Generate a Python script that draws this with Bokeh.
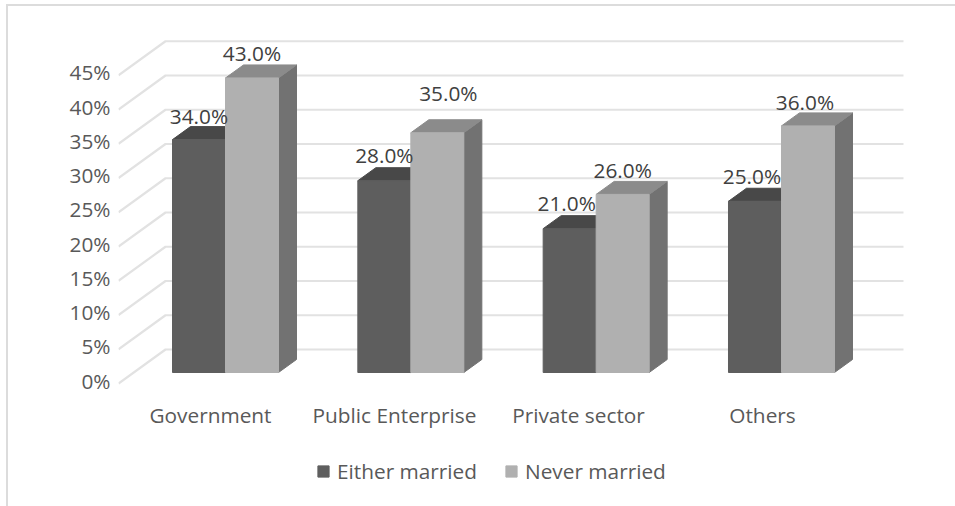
from bokeh.plotting import figure
from bokeh.models import ColumnDataSource, FixedTicker, Legend, LegendItem, LinearAxis, Range1d
from bokeh.core.properties import value
from bokeh.embed import file_html
from bokeh.resources import INLINE

categories = ["Government", "Public Enterprise", "Private sector", "Others"]
either_married = [34.0, 28.0, 21.0, 25.0]
never_married = [43.0, 35.0, 26.0, 36.0]
y_ticks = [0, 5, 10, 15, 20, 25, 30, 35, 40, 45]
series_names = ["Either married", "Never married"]

FONT = "Open Sans"
FS = "20.8px"
PX_X, PX_Y = 184.0, 6.85          # pixels per data unit
ORIGIN_X, ORIGIN_Y = 8, 6         # where the figure's content sits on the page
LEFT, RIGHT, TOP, BASE, BOTTOM = 118, 935, 20, 383, 503

def sx(px):   # horizontal distance in data units
    return px / PX_X

def sy(px):
    return px / PX_Y

y_start, y_end = -(BOTTOM - BASE) / PX_Y, (BASE - TOP) / PX_Y
p = figure(frame_width=RIGHT - LEFT, frame_height=BOTTOM - TOP,
           min_border_left=LEFT - ORIGIN_X, min_border_right=955 - RIGHT,
           min_border_top=TOP - ORIGIN_Y, min_border_bottom=3,
           x_range=(1 + (LEFT - 210) / PX_X, 1 + (RIGHT - 210) / PX_X),
           y_range=(y_start, y_end), y_axis_location=None, x_axis_location=None,
           output_backend="svg", toolbar_location=None,
           margin=(4, 0, 0, 6),
           styles={"border-top": "2px solid #dcdcdc", "border-left": "2px solid #dcdcdc"})
p.background_fill_color = None
p.border_fill_color = None
p.outline_line_color = None
p.grid.visible = False

back_dy = sy(34)
wall_dx = sx(47)
x_left = 1 + (LEFT - 210) / PX_X
x_back = x_left + wall_dx
x_right = 1 + (903 - 210) / PX_X
p.multi_line([[x_left, x_back, x_right] for _ in y_ticks],
             [[t, t + back_dy, t + back_dy] for t in y_ticks],
             line_color="#e2e2e2", line_width=2.2)

bar_w = sx(53)
bar_step = 185.33 / PX_X
depth_x, depth_y = sx(18), sy(13)
base = sy(11)
dark_off = -sx(210 - 172)
light_off = dark_off + bar_w
colours = [("#5e5e5e", "#484848", "#4a4a4a"), ("#b0b0b0", "#8b8b8b", "#727272")]
label_nudge_x = [[0, 0, -3, -3], [0, 11, 0, -3]]
label_nudge_y = [[24, 26, 26, 25], [25, 40, 24, 24]]

legend_items = []
for s, (vals, off) in enumerate([(either_married, dark_off), (never_married, light_off)]):
    front_c, top_c, side_c = colours[s]
    xs = [1 + i * bar_step + off for i in range(4)]
    side = p.patches([[x + bar_w, x + bar_w + depth_x, x + bar_w + depth_x, x + bar_w] for x in xs],
                     [[base, base + depth_y, v + base + depth_y, v + base] for v in vals],
                     fill_color=side_c, line_color=side_c)
    top = p.patches([[x, x + depth_x, x + bar_w + depth_x, x + bar_w] for x in xs],
                    [[v + base, v + base + depth_y, v + base + depth_y, v + base] for v in vals],
                    fill_color=top_c, line_color=top_c)
    front = p.patches([[x, x, x + bar_w, x + bar_w] for x in xs],
                      [[base, v + base, v + base, base] for v in vals],
                      fill_color=front_c, line_color=front_c)
    legend_items.append(LegendItem(label=series_names[s], renderers=[front]))

for s, (vals, off) in enumerate([(either_married, dark_off), (never_married, light_off)]):
    src = ColumnDataSource(dict(
        x=[1 + i * bar_step + off + bar_w / 2 for i in range(4)],
        y=[v + base for v in vals],
        t=[f"{v:.1f}%" for v in vals],
        dx=label_nudge_x[s],
        dy=[-d for d in label_nudge_y[s]],
    ))
    p.text("x", "y", text="t", source=src, x_offset="dx", y_offset="dy",
           text_font=value(FONT), text_font_size=value(FS), text_color="#404040",
           text_align="center", text_baseline="middle")

p.extra_y_ranges["ticks"] = Range1d(y_start - sy(3), y_end - sy(3))
y_axis = LinearAxis(y_range_name="ticks", ticker=FixedTicker(ticks=y_ticks),
                    major_label_overrides={t: f"{t}%" for t in y_ticks},
                    axis_line_color=None, major_tick_line_color=None, minor_tick_line_color=None,
                    major_label_standoff=2, major_label_text_font=FONT,
                    major_label_text_font_size=FS, major_label_text_color="#595959")
p.add_layout(y_axis, "left")

x_axis = LinearAxis(fixed_location=0, ticker=FixedTicker(ticks=[1, 2, 3, 4]),
                    major_label_overrides={i + 1: c for i, c in enumerate(categories)},
                    axis_line_color=None, major_tick_line_color=None, minor_tick_line_color=None,
                    major_label_standoff=11, major_label_text_font=FONT,
                    major_label_text_font_size=FS, major_label_text_color="#595959")
p.add_layout(x_axis, "below")

legend = Legend(items=legend_items, orientation="horizontal", location=(198, 18),
                border_line_color=None, background_fill_color=None,
                glyph_width=14, glyph_height=14, label_standoff=7, spacing=27, padding=0, margin=0,
                label_text_font=FONT, label_text_font_size=FS, label_text_color="#595959")
p.add_layout(legend, "center")

open("out.html", "w").write(file_html(p, INLINE))
